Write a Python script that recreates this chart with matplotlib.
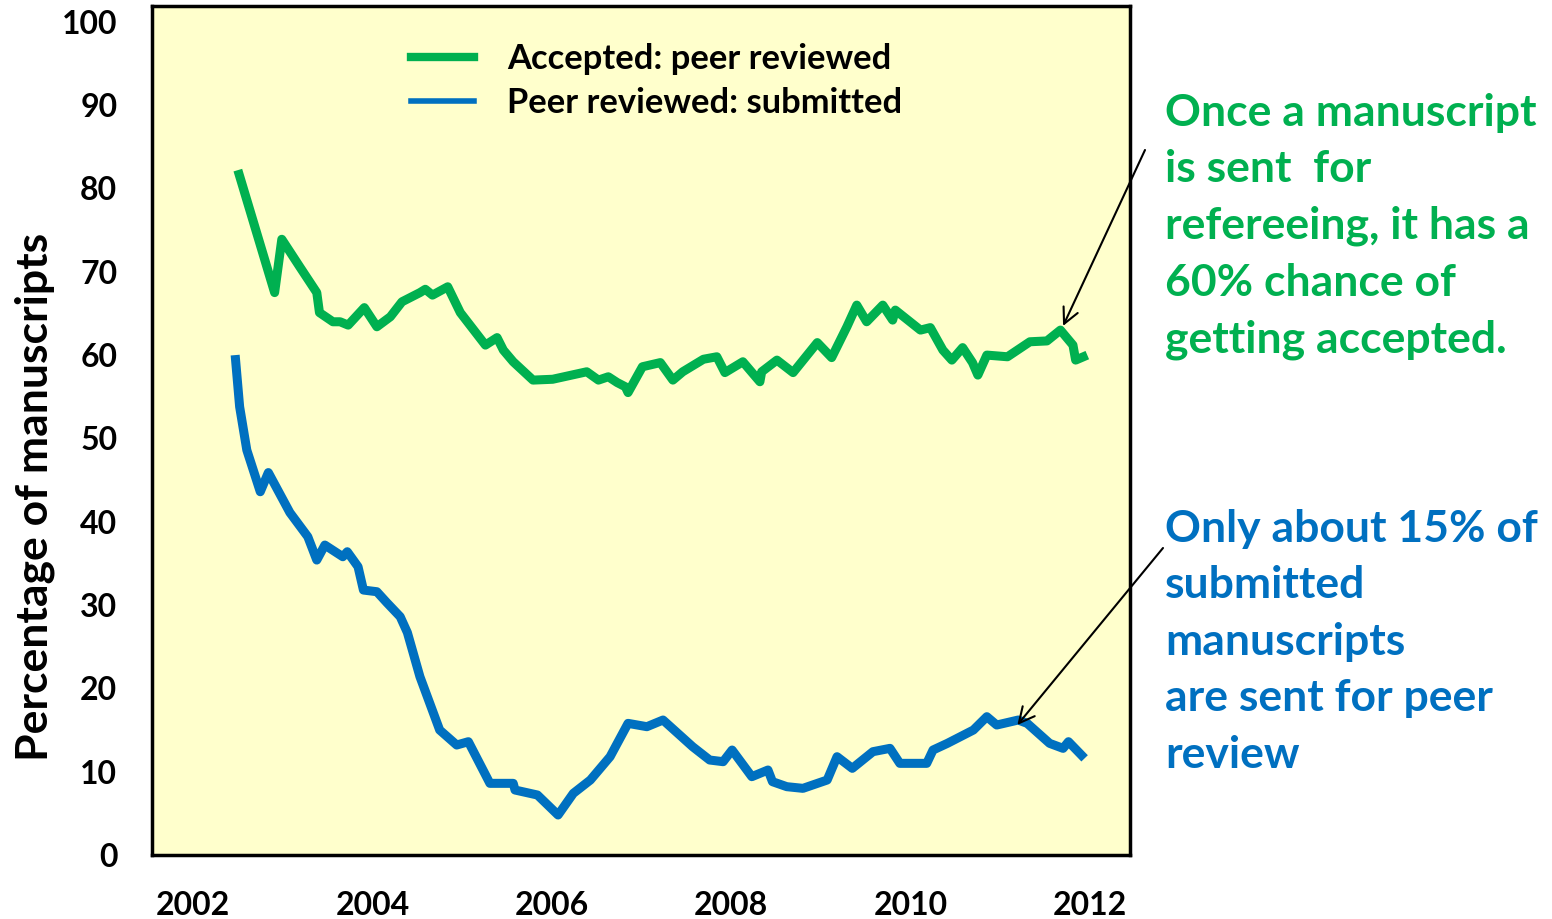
import matplotlib
matplotlib.use("Agg")
import matplotlib.pyplot as plt
from matplotlib.lines import Line2D

plt.rcParams['font.family'] = ['Lato', 'DejaVu Sans']
plt.rcParams['font.weight'] = 'bold'

GREEN = '#00B050'
BLUE = '#0070C0'

# Accepted / peer reviewed, percent (smoothed running ratio)
acc_year = [2002.50, 2002.91, 2002.99, 2003.19, 2003.38, 2003.41, 2003.56,
            2003.64, 2003.73, 2003.91, 2004.05, 2004.20, 2004.33, 2004.53,
            2004.59, 2004.67, 2004.84, 2004.98, 2005.26, 2005.39, 2005.46,
            2005.57, 2005.79, 2006.01, 2006.39, 2006.52, 2006.63, 2006.73,
            2006.82, 2006.85, 2007.01, 2007.21, 2007.35, 2007.46, 2007.69,
            2007.84, 2007.93, 2008.13, 2008.32, 2008.34, 2008.51, 2008.69,
            2008.96, 2009.12, 2009.29, 2009.40, 2009.51, 2009.69, 2009.80,
            2009.83, 2010.11, 2010.22, 2010.36, 2010.46, 2010.58, 2010.69,
            2010.75, 2010.85, 2011.08, 2011.33, 2011.52, 2011.67, 2011.81,
            2011.84, 2011.97]
acc_pct = [82.2, 67.5, 73.9, 70.6, 67.5, 65.1, 64.0,
           64.0, 63.6, 65.7, 63.4, 64.6, 66.4, 67.5,
           67.9, 67.2, 68.2, 65.1, 61.2, 62.1, 60.6,
           59.2, 57.0, 57.1, 58.0, 57.0, 57.4, 56.7,
           56.2, 55.5, 58.6, 59.1, 57.0, 58.0, 59.5,
           59.8, 57.9, 59.2, 56.8, 58.0, 59.4, 57.9,
           61.5, 59.7, 63.4, 66.0, 64.0, 66.0, 64.2,
           65.4, 63.0, 63.3, 60.6, 59.4, 60.9, 59.1,
           57.6, 60.0, 59.8, 61.6, 61.7, 63.0, 61.2,
           59.4, 60.0]

# Peer reviewed / submitted, percent
rev_year = [2002.47, 2002.52, 2002.60, 2002.75, 2002.84, 2003.08, 2003.28,
            2003.38, 2003.47, 2003.67, 2003.72, 2003.84, 2003.90, 2004.05,
            2004.16, 2004.31, 2004.39, 2004.53, 2004.75, 2004.94, 2005.07,
            2005.31, 2005.57, 2005.59, 2005.84, 2006.07, 2006.24, 2006.43,
            2006.65, 2006.85, 2007.06, 2007.24, 2007.57, 2007.76, 2007.91,
            2008.01, 2008.23, 2008.41, 2008.46, 2008.62, 2008.80, 2009.07,
            2009.18, 2009.35, 2009.58, 2009.77, 2009.88, 2010.18, 2010.25,
            2010.41, 2010.70, 2010.85, 2010.96, 2011.20, 2011.30, 2011.55,
            2011.70, 2011.76, 2011.94]
rev_pct = [60.0, 53.8, 48.6, 43.6, 45.9, 41.1, 38.2,
           35.4, 37.2, 35.8, 36.4, 34.6, 31.8, 31.6,
           30.3, 28.6, 26.7, 21.4, 15.0, 13.2, 13.6,
           8.6, 8.6, 7.8, 7.2, 4.8, 7.4, 9.0,
           11.8, 15.8, 15.4, 16.2, 13.0, 11.4, 11.2,
           12.6, 9.4, 10.2, 8.8, 8.2, 8.0, 9.0,
           11.8, 10.4, 12.4, 12.8, 11.0, 11.0, 12.6,
           13.4, 15.0, 16.6, 15.6, 16.2, 15.8, 13.4,
           12.8, 13.6, 11.6]

years = [2002, 2004, 2006, 2008, 2010, 2012]
yticks = list(range(0, 101, 10))

note_accepted = ("Once a manuscript\nis sent  for\nrefereeing, it has a\n"
                 "60% chance of\ngetting accepted.")
note_reviewed = ("Only about 15% of\nsubmitted\nmanuscripts\n"
                 "are sent for peer\nreview")

W, H = 1552, 919
fig = plt.figure(figsize=(W / 100, H / 100), dpi=100)
ax = fig.add_axes([152 / W, (H - 855) / H, (1130 - 152) / W, (855 - 6) / H])
ax.set_facecolor('#FFFFCC')

ax.plot(acc_year, acc_pct, color=GREEN, lw=6.5, solid_joinstyle='round',
        solid_capstyle='butt')
ax.plot(rev_year, rev_pct, color=BLUE, lw=6.5, solid_joinstyle='round',
        solid_capstyle='butt')

ax.set_xlim(2001.543, 2012.446)
ax.set_ylim(0, 101.9)
ax.set_xticks(years)
ax.set_yticks(yticks)
ax.tick_params(length=0, labelsize=23)
ax.tick_params(axis='x', pad=26)
ax.tick_params(axis='y', pad=25)
for lab in ax.get_xticklabels() + ax.get_yticklabels():
    lab.set_fontweight('bold')
for sp in ax.spines.values():
    sp.set_linewidth(2.5)

fig.text(35 / W, 1 - 497 / H, 'Percentage of manuscripts', fontsize=32,
         fontweight='bold', rotation=90, ha='center', va='center')

handles = [Line2D([], [], color=GREEN, lw=6),
           Line2D([], [], color=BLUE, lw=4)]
ax.legend(handles, ['Accepted: peer reviewed', 'Peer reviewed: submitted'],
          loc='upper left', bbox_to_anchor=((380 - 152) / (1130 - 152), 0.993),
          frameon=False, handlelength=1.83, handletextpad=0.95,
          labelspacing=0.36, prop={'weight': 'bold', 'size': 24.8})

fig.text(1165 / W, 1 - 93 / H, note_accepted, color=GREEN, fontsize=32,
         fontweight='bold', va='top', ha='left', linespacing=1.5)
fig.text(1165 / W, 1 - 509 / H, note_reviewed, color=BLUE, fontsize=32,
         fontweight='bold', va='top', ha='left', linespacing=1.5)

arrow = dict(arrowstyle='->', color='black', lw=1.5, mutation_scale=28,
             shrinkA=0, shrinkB=0)
ax.annotate('', xy=(2011.70, 63.5), xycoords='data',
            xytext=(1145 / W, 1 - 150 / H), textcoords='figure fraction',
            arrowprops=arrow, annotation_clip=False)
ax.annotate('', xy=(2011.19, 15.6), xycoords='data',
            xytext=(1163 / W, 1 - 548 / H), textcoords='figure fraction',
            arrowprops=arrow, annotation_clip=False)

fig.savefig('out.png', dpi=100)
